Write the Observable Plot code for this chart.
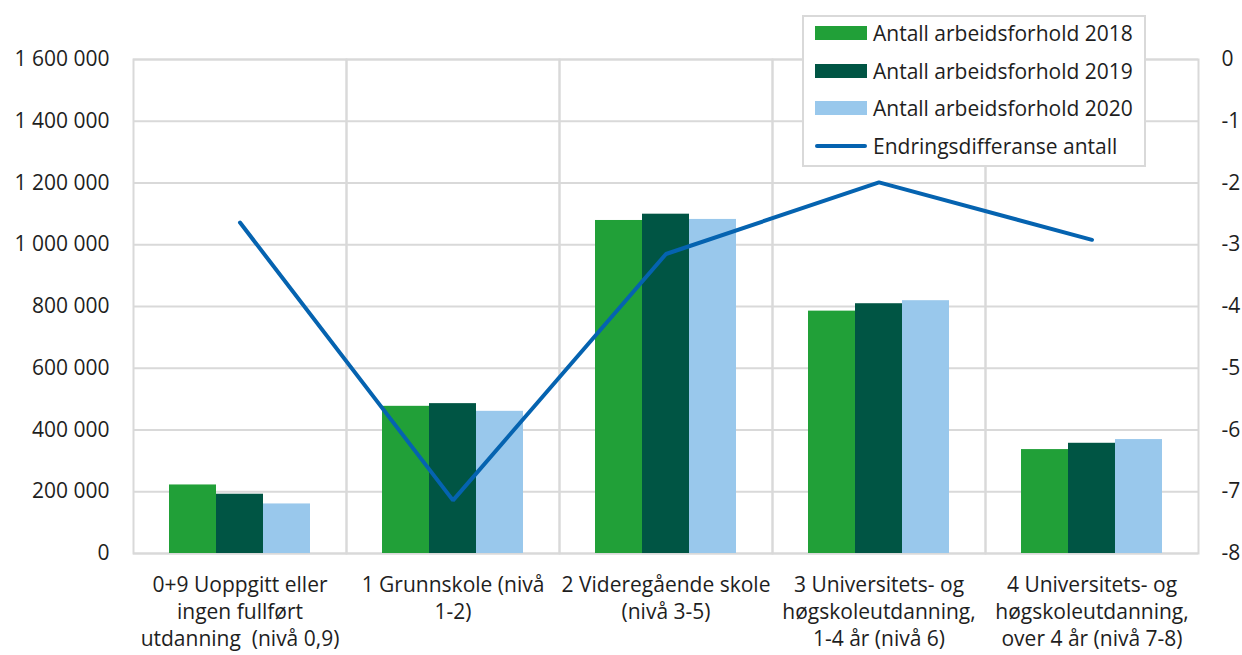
<!DOCTYPE html>
<html>
<head>
<meta charset="utf-8">
<script src="https://cdn.jsdelivr.net/npm/d3@7"></script>
<script src="https://cdn.jsdelivr.net/npm/@observablehq/plot@0.6"></script>
<style>
  html, body { margin: 0; padding: 0; background: #fff; overflow: hidden; }
  #wrap { position: relative; width: 1242px; height: 655px; font-family: "Open Sans", "Noto Sans", sans-serif; }
  #wrap svg { position: absolute; left: 0; top: 0; }
  #legend { position: absolute; left: 802px; top: 15px; width: 340px; height: 148px; background: #fff;
            border: 2px solid #d9d9d9; font-size: 21px; color: #1e1e1e; z-index: 5; }
  #legend .rows { position: absolute; left: 0; top: -3px; }
  #legend .row { height: 37.8px; display: flex; align-items: center; white-space: nowrap; }
  #legend .sw { width: 52px; margin-left: 11px; margin-right: 6px; flex: none; }
</style>
</head>
<body>
<div id="wrap"><div id="legend"><div class="rows"></div></div></div>
<script>
// ---- data ----
const categories = [
  "0+9 Uoppgitt eller\ningen fullført\nutdanning  (nivå 0,9)",
  "1 Grunnskole (nivå\n1-2)",
  "2 Videregående skole\n(nivå 3-5)",
  "3 Universitets- og\nhøgskoleutdanning,\n1-4 år (nivå 6)",
  "4 Universitets- og\nhøgskoleutdanning,\nover 4 år (nivå 7-8)"
];
const years = ["2018", "2019", "2020"];
const values2018 = [222000, 476700, 1078600, 785000, 336600];
const values2019 = [192000, 485400, 1099000, 809000, 357000];
const values2020 = [160500, 460500, 1082000, 818800, 369000];
const diffValues = [-2.64, -7.14, -3.15, -1.99, -2.92];
const leftTicks = [0, 200000, 400000, 600000, 800000, 1000000, 1200000, 1400000, 1600000];
const rightTicks = [-8, -7, -6, -5, -4, -3, -2, -1, 0];
const barNames = ["Antall arbeidsforhold 2018", "Antall arbeidsforhold 2019", "Antall arbeidsforhold 2020"];
const lineName = "Endringsdifferanse antall";
const barColors = ["#21a038", "#005544", "#99c8ec"];
const lineColor = "#0563b0";

// ---- derived tables ----
const seriesValues = [values2018, values2019, values2020];
const bars = [];
categories.forEach((c, i) => years.forEach((y, j) => bars.push({cat: c, year: y, value: seriesValues[j][i]})));
const lineData = categories.map((c, i) => ({cat: c, diff: diffValues[i]}));

const fmt = d3.formatLocale({decimal: ",", thousands: " ", grouping: [3], currency: ["", ""]}).format(",.0f");

const W = 1242, H = 655;
const M = {top: 59, right: 44, bottom: 102, left: 133};
const grid = "#d9d9d9";
const textColor = "#1e1e1e";

const barPlot = Plot.plot({
  width: W, height: H,
  marginTop: M.top, marginRight: M.right, marginBottom: M.bottom, marginLeft: M.left,
  style: {fontFamily: '"Open Sans", "Noto Sans", sans-serif', fontSize: "21px", color: textColor, background: "transparent"},
  fx: {domain: categories, padding: 0, label: null},
  x: {domain: years, paddingInner: 0, paddingOuter: 0.74, axis: null},
  y: {domain: [0, 1600000], label: null},
  color: {domain: years, range: barColors},
  marks: [
    Plot.gridY(leftTicks, {stroke: grid, strokeOpacity: 1, strokeWidth: 2}),
    Plot.frame({stroke: grid, strokeWidth: 2}),
    Plot.barY(bars, {fx: "cat", x: "year", y: "value", fill: "year"}),
    Plot.axisY(leftTicks, {anchor: "left", tickSize: 0, tickPadding: 24, tickFormat: fmt, fontSize: 21, label: null, fill: textColor}),
    Plot.axisFx({anchor: "bottom", tickSize: 0, tickPadding: 20, fontSize: 21, lineHeight: 1.27, label: null, tickFormat: d => d, fill: textColor})
  ]
});

const linePlot = Plot.plot({
  width: W, height: H,
  marginTop: M.top, marginRight: M.right, marginBottom: M.bottom, marginLeft: M.left,
  style: {fontFamily: '"Open Sans", "Noto Sans", sans-serif', fontSize: "21px", color: textColor, background: "transparent"},
  x: {type: "band", domain: categories, padding: 0, axis: null},
  y: {domain: [-8, 0], label: null},
  marks: [
    Plot.axisY(rightTicks, {anchor: "right", tickSize: 0, tickPadding: 23, tickFormat: d => String(d), fontSize: 21, label: null, fill: textColor, textAnchor: "start"}),
    Plot.line(lineData, {x: "cat", y: "diff", stroke: lineColor, strokeWidth: 4, strokeLinejoin: "miter"})
  ]
});

const wrap = document.getElementById("wrap");
wrap.insertBefore(barPlot, wrap.firstChild);
wrap.insertBefore(linePlot, document.getElementById("legend"));

// legend
const rows = document.querySelector("#legend .rows");
barNames.forEach((n, i) => {
  const r = document.createElement("div"); r.className = "row";
  r.innerHTML = `<div class="sw" style="height:14px;background:${barColors[i]}"></div><span>${n}</span>`;
  rows.appendChild(r);
});
{
  const r = document.createElement("div"); r.className = "row";
  r.innerHTML = `<div class="sw" style="height:4px;border-radius:2px;background:${lineColor}"></div><span>${lineName}</span>`;
  rows.appendChild(r);
}
</script>
</body>
</html>
